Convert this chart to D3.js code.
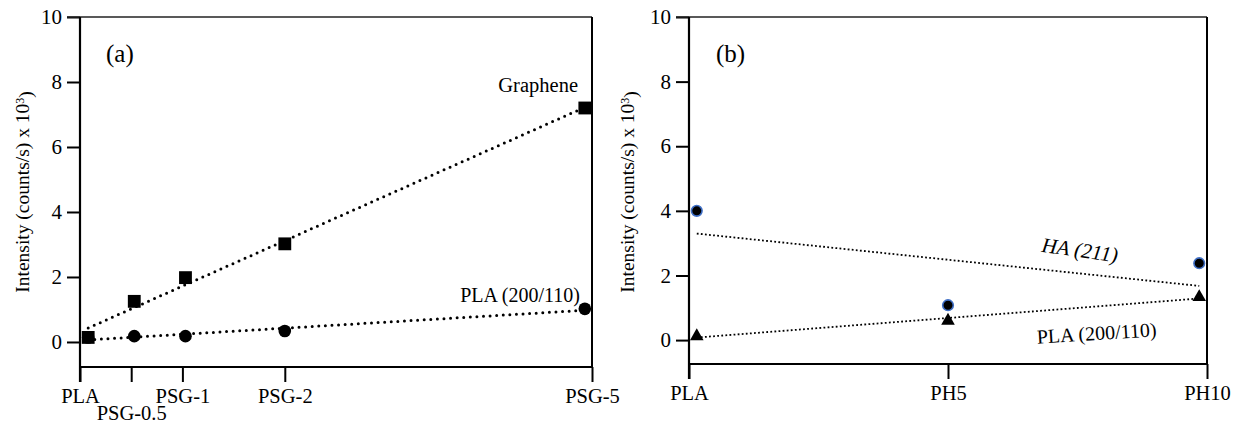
<!DOCTYPE html>
<html>
<head>
<meta charset="utf-8">
<script src="https://cdn.jsdelivr.net/npm/d3@7"></script>
<style>
  body { margin: 0; background: #fff; }
</style>
</head>
<body>
<div id="chart"></div>
<script>
// Panel (a) data
const catsA = ['PLA', 'PSG-0.5', 'PSG-1', 'PSG-2', 'PSG-5'];
const catPosA = [0, 0.5, 1, 2, 5];
const pointXA = [0.08, 0.53, 1.03, 2.0, 4.93];
const grapheneA = [0.14, 1.25, 1.98, 3.02, 7.2];
const plaA = [0.14, 0.18, 0.18, 0.34, 1.02];

// Panel (b) data
const catsB = ['PLA', 'PH5', 'PH10'];
const catPosB = [0, 5, 10];
const pointXB = [0.15, 5.0, 9.85];
const haB = [4.0, 1.08, 2.38];
const plaB = [0.12, 0.6, 1.33];

const yTickVals = [0, 2, 4, 6, 8, 10];
const serif = "'Liberation Serif', 'Times New Roman', Times, serif";

const svg = d3.select('#chart').append('svg')
    .attr('width', 1239)
    .attr('height', 425)
    .style('font-family', serif);

// least squares fit
function fit(xs, ys) {
    const mx = d3.mean(xs), my = d3.mean(ys);
    let sxy = 0, sxx = 0;
    xs.forEach((x, i) => { sxy += (x - mx) * (ys[i] - my); sxx += (x - mx) * (x - mx); });
    const b = sxy / sxx;
    const a = my - b * mx;
    const x0 = d3.min(xs), x1 = d3.max(xs);
    return [{x: x0, y: a + b * x0}, {x: x1, y: a + b * x1}];
}

function drawFrame(cfg) {
    const x = d3.scaleLinear().domain([0, cfg.xMax]).range([cfg.left, cfg.right]);
    const y = d3.scaleLinear().domain([cfg.yMin, 10]).range([cfg.bottom, cfg.top]);
    const g = svg.append('g');

    //Y axis
    const ya = g.append('g')
        .attr('transform', `translate(${cfg.left},0)`)
        .call(d3.axisLeft(y).tickValues(yTickVals).tickSize(13).tickPadding(5).tickSizeOuter(0));
    ya.attr('font-family', null).attr('font-size', null);
    ya.select('.domain').remove();
    ya.selectAll('line').attr('stroke', '#000').attr('stroke-width', 2);
    ya.selectAll('text').style('font-family', serif).style('font-size', '21px').attr('fill', '#000');

    //X axis
    const xa = g.append('g')
        .attr('transform', `translate(0,${cfg.bottom})`)
        .call(d3.axisBottom(x).tickValues(cfg.catPos).tickSize(15).tickPadding(4)
            .tickFormat((d, i) => cfg.cats[i]));
    xa.attr('font-family', null).attr('font-size', null);
    xa.select('.domain').remove();
    xa.selectAll('line').attr('stroke', '#000').attr('stroke-width', 2);
    xa.selectAll('text').style('font-family', serif).style('font-size', '20.5px').attr('fill', '#000')
        .attr('dy', (d, i) => cfg.lowRow.includes(i) ? '1.68em' : '0.85em');

    //Frame
    g.append('line').attr('x1', cfg.left - 13).attr('x2', cfg.right)
        .attr('y1', cfg.top).attr('y2', cfg.top)
        .attr('stroke', '#222').attr('stroke-width', 1.5);
    g.append('line').attr('x1', cfg.right).attr('x2', cfg.right)
        .attr('y1', cfg.top).attr('y2', cfg.bottom)
        .attr('stroke', '#000').attr('stroke-width', 2);
    g.append('line').attr('x1', cfg.left).attr('x2', cfg.left)
        .attr('y1', cfg.top).attr('y2', cfg.bottom + 15)
        .attr('stroke', '#000').attr('stroke-width', 2.2);
    g.append('line').attr('x1', cfg.left).attr('x2', cfg.right)
        .attr('y1', cfg.bottom).attr('y2', cfg.bottom)
        .attr('stroke', '#000').attr('stroke-width', 2.2);

    //Axis title
    const t = g.append('text')
        .attr('transform', `translate(${cfg.titleX},192) rotate(-90)`)
        .attr('text-anchor', 'middle')
        .style('font-family', serif)
        .style('font-size', '19.5px');
    t.append('tspan').text('Intensity (counts/s) x 10');
    t.append('tspan').attr('dy', '-0.45em').style('font-size', '12px').text('3');
    t.append('tspan').attr('dy', '0.45em').text(')');

    //Panel label
    g.append('text').attr('x', cfg.labelX).attr('y', cfg.top + 45)
        .style('font-family', serif)
        .style('font-size', '25px').text(cfg.label);

    return {g, x, y};
}

// Panel (a)
const pa = drawFrame({left: 80, right: 592, top: 17, bottom: 367, yMin: -0.77, xMax: 5,
    cats: catsA, catPos: catPosA, lowRow: [1], titleX: 29, labelX: 106, label: '(a)'});

const lineA = d3.line().x(d => pa.x(d.x)).y(d => pa.y(d.y));
[grapheneA, plaA].forEach(vals => {
    pa.g.append('path')
        .attr('d', lineA(fit(pointXA, vals)))
        .attr('fill', 'none')
        .attr('stroke', '#000')
        .attr('stroke-width', 3)
        .attr('stroke-linecap', 'round')
        .attr('stroke-dasharray', '0 6.6');
});

pa.g.selectAll('.circA').data(plaA).enter().append('circle')
    .attr('cx', (d, i) => pa.x(pointXA[i]))
    .attr('cy', d => pa.y(d))
    .attr('r', 6.3)
    .attr('fill', '#000');

pa.g.selectAll('.sqA').data(grapheneA).enter().append('path')
    .attr('transform', (d, i) => `translate(${pa.x(pointXA[i])},${pa.y(d)})`)
    .attr('d', d3.symbol().type(d3.symbolSquare).size(165))
    .attr('fill', '#000');

pa.g.append('text').attr('x', 578).attr('y', 92).attr('text-anchor', 'end')
    .style('font-family', serif)
    .style('font-size', '20.5px').text('Graphene');
pa.g.append('text').attr('x', 580).attr('y', 302).attr('text-anchor', 'end')
    .style('font-family', serif)
    .style('font-size', '20px').text('PLA (200/110)');

// Panel (b)
const pb = drawFrame({left: 689, right: 1207, top: 17, bottom: 364, yMin: -0.74, xMax: 10,
    cats: catsB, catPos: catPosB, lowRow: [], titleX: 634, labelX: 716, label: '(b)'});

const lineB = d3.line().x(d => pb.x(d.x)).y(d => pb.y(d.y));
[haB, plaB].forEach(vals => {
    pb.g.append('path')
        .attr('d', lineB(fit(pointXB, vals)))
        .attr('fill', 'none')
        .attr('stroke', '#000')
        .attr('stroke-width', 1.8)
        .attr('stroke-dasharray', '1.8 2.3');
});

pb.g.selectAll('.circB').data(haB).enter().append('circle')
    .attr('cx', (d, i) => pb.x(pointXB[i]))
    .attr('cy', d => pb.y(d))
    .attr('r', 5.3)
    .attr('fill', '#000')
    .attr('stroke', '#3f6fc6')
    .attr('stroke-width', 1.6);

pb.g.selectAll('.triB').data(plaB).enter().append('path')
    .attr('transform', (d, i) => `translate(${pb.x(pointXB[i])},${pb.y(d)})`)
    .attr('d', d3.symbol().type(d3.symbolTriangle).size(80))
    .attr('fill', '#000');

pb.g.append('text')
    .attr('transform', 'translate(1079,257) rotate(8)')
    .attr('text-anchor', 'middle')
    .style('font-family', serif)
    .style('font-size', '21px').style('font-style', 'italic')
    .text('HA (211)');
pb.g.append('text')
    .attr('transform', 'translate(1097,340) rotate(-3.5)')
    .attr('text-anchor', 'middle')
    .style('font-family', serif)
    .style('font-size', '20px')
    .text('PLA (200/110)');
</script>
</body>
</html>
